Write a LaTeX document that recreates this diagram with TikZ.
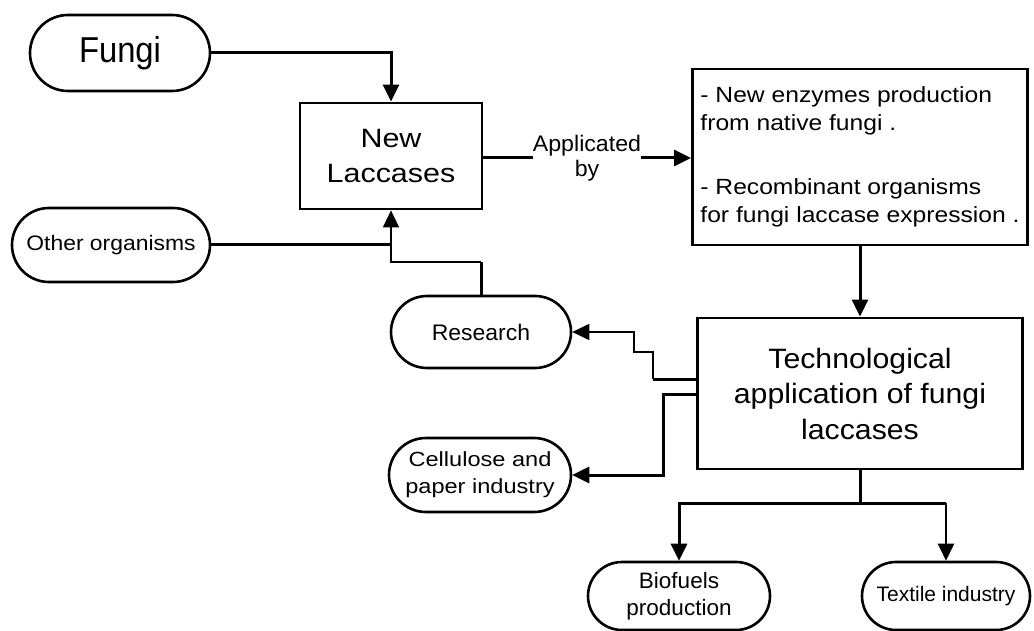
\documentclass[tikz,border=0pt]{standalone}
\usepackage{fontspec}
\setmainfont{Liberation Sans}
\usetikzlibrary{arrows.meta,shapes.misc}

% size, baseline skip, horizontal stretch
\newcommand\txtfont[3]{\fontsize{#1}{#2}\selectfont\addfontfeatures{FakeStretch=#3}}

\tikzset{
  pill/.style={draw, rounded rectangle, rounded rectangle arc length=180,
               line width=2.6pt, inner sep=0pt, align=center},
  box/.style={draw, line width=2.8pt, inner sep=0pt},
  thk/.style={line width=3pt},
  thn/.style={line width=1.8pt},
  arr/.style={-{Triangle[length=17pt,width=16pt]}}
}

\begin{document}
\begin{tikzpicture}[x=1pt,y=-1pt]
\useasboundingbox (0,0) rectangle (1034,631);

% sources
\node[pill, minimum width=180pt, minimum height=76pt,
      font=\txtfont{36}{40}{0.91}] (fungi) at (120,53) {Fungi};
\node[pill, minimum width=198pt, minimum height=74pt,
      font=\txtfont{21}{26}{1.09}] (other) at (111,245) {Other organisms};

% central boxes
\node[box, align=center, minimum width=182pt, minimum height=106pt,
      font=\txtfont{26.5}{35}{1.15}] (nl) at (391,156) {New\\Laccases};
\node[box, align=left, minimum width=335pt, minimum height=176pt,
      font=\txtfont{22}{28}{1.12}] (up) at (860,157)
  {- New enzymes production\\from native fungi .\\[36pt]- Recombinant organisms\\for fungi laccase expression .};
\node[box, align=center, minimum width=325pt, minimum height=151pt,
      font=\txtfont{28}{35.5}{1.08}] (tech) at (860,393.5)
  {Technological\\application of fungi\\laccases};

\node[inner sep=0pt, align=center, font=\txtfont{22.5}{25}{1.03}] (app) at (587,158) {Applicated\\by};

% applications
\node[pill, minimum width=180pt, minimum height=72pt,
      font=\txtfont{22.5}{27}{1.02}] (research) at (481,332) {Research};
\node[pill, minimum width=182pt, minimum height=74pt,
      font=\txtfont{20.5}{27}{1.15}] (cell) at (480,475) {Cellulose and\\paper industry};
\node[pill, minimum width=182pt, minimum height=68pt,
      font=\txtfont{22.3}{27}{1.01}] (bio) at (679,596) {Biofuels\\production};
\node[pill, minimum width=168pt, minimum height=68pt,
      font=\txtfont{21}{26}{1.0}] (tex) at (946,596) {Textile industry};

% bends
\coordinate (rj) at (391,262);
\coordinate (s1) at (653,379);
\coordinate (s2) at (634,352);
\coordinate (c1) at (663,394);
\coordinate (b1) at (860,503);

% connectors
\draw[thk,arr] (fungi.east) -| (nl.north);
\draw[thk] (other.east) -- (other.east -| nl.south);
\draw[thk] (research.north) -- (research.north |- rj);
\draw[thn,arr] (research.north |- rj) -- (rj) -- (nl.south);

\draw[thk] (nl.east |- app.west) -- (app.west);
\draw[thk,arr] (app.east) -- (app.east -| up.west);
\draw[thk,arr] (up.south) -- (tech.north);

\draw[thk] (tech.west |- s1) -- (s1);
\draw[thn,arr] (s1) |- (s2) |- (research.east);
\draw[thk,arr] (tech.west |- c1) -- (c1) |- (cell.east);

\draw[thk] (tech.south) -- (b1);
\draw[thk,arr] (b1) -| (bio.north);
\draw[thk] (b1) -- (b1 -| tex.north);
\draw[line width=2.4pt,arr] (b1 -| tex.north) -- (tex.north);
\end{tikzpicture}
\end{document}
